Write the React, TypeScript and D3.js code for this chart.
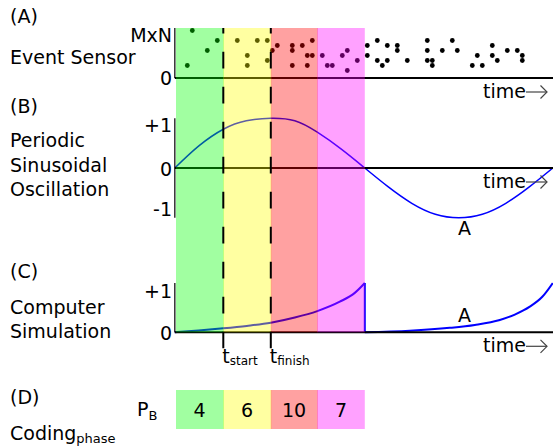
import React from 'react';
import * as d3 from 'd3';

// panel A: sensor events, [time, level]
const sensorEvents: [number, number][] = [
  [3.5, 9.5], [8.5, 7.5], [6.5, 5.5], [2.5, 2.5],
  [12.5, 7.5], [16.5, 7.5], [18.5, 7.5], [14.5, 4.5], [14.5, 2.5], [18.5, 3.5],
  [20.5, 6.5], [19.5, 5.5], [23.5, 6.5], [23.5, 5.5], [25.5, 6.5], [27.5, 7.5],
  [26.5, 4.5], [27.5, 4.5], [23.5, 2.5], [26.5, 2.5],
  [29.5, 4.5], [30.5, 2.5], [31.5, 2.5], [33.5, 4.5], [34.5, 5.5], [36.5, 3.5], [34.5, 1.5],
  [38.5, 6.5], [38.5, 4.5], [40.5, 7.5], [40.5, 3.5], [41.5, 2.5], [42.5, 6.5], [42.5, 3.5],
  [44.5, 6.5], [44.5, 5.5], [46.5, 3.5], [50.5, 7.5], [50.5, 5.5], [50.5, 3.5], [51.5, 3.5],
  [51.5, 2.5], [53.5, 5.5], [55.5, 7.5], [56.5, 5.5], [59.5, 2.5], [60.5, 4.5], [61.5, 2.5],
  [63.5, 6.5], [63.5, 4.5], [64.5, 3.5], [66.5, 5.5], [68.5, 5.5], [69.5, 4.5], [69.5, 3.5],
];

// panel B: oscillation
const sineT = [0, 4.75, 9.7, 14.3, 19.2, 24, 28.5, 33.3, 38, 42.7, 47.4, 52.1, 56.8, 61.5, 66.2, 70.9, 75.6];
const sineV = [0, 0.44, 0.78, 0.95, 1, 0.95, 0.72, 0.38, 0, -0.38, -0.71, -0.93, -1, -0.93, -0.71, -0.38, 0];

// panel C: simulation, two runs
const simT1 = [0, 4.75, 9.7, 14.4, 19.2, 24, 28.5, 33, 36, 38];
const simV1 = [0, 0.035, 0.08, 0.13, 0.195, 0.3, 0.43, 0.62, 0.8, 1];
const simT2 = [38, 47, 55, 60, 65, 68, 71, 73.5, 75.6];
const simV2 = [0, 0.03, 0.09, 0.15, 0.25, 0.36, 0.52, 0.72, 1];

// phases
const phaseEdges = [0.24, 9.7, 19.2, 28.5, 38];
const phaseColors = ['#00ff00', '#ffff00', '#ff0000', '#ff00ff'];
const codingValues = [4, 6, 10, 7];
const markers = [{ t: 9.7, sub: 'start' }, { t: 19.2, sub: 'finish' }];

const FONT = 'DejaVu Sans, Verdana, sans-serif';
const FS = 19;
const BAND_OPACITY = 0.37;

export default function App() {
  const width = 553;
  const height = 448;

  const x = d3.scaleLinear().domain([0, 75.64]).range([174.8, 553]);
  const yA = d3.scaleLinear().domain([0, 10]).range([78, 28]);
  const yB = d3.scaleLinear().domain([-1, 1]).range([217.7, 118.3]);
  const yC = d3.scaleLinear().domain([0, 1]).range([332.3, 283]);

  const sineLine = d3.line<number>()
    .x((d, i) => x(sineT[i]))
    .y(d => yB(d))
    .curve(d3.curveNatural);

  const simLine = (ts: number[]) => d3.line<number>()
    .x((d, i) => x(ts[i]))
    .y(d => yC(d))
    .curve(d3.curveMonotoneX);

  const x0 = x(0);
  const bandTop = yA(10);
  const bandBottom = yC(0);

  const timeLabel = (axisY: number, key: string) => {
    const base = axisY + 19.5;
    const ay = base - 5.5;
    return (
      <g key={key}>
        <text x={483} y={base} fontSize={FS}>time</text>
        <line x1={526} x2={547} y1={ay} y2={ay} stroke="#444" strokeWidth={1.2} />
        <polyline points={`540.5,${ay - 6.5} 547,${ay} 540.5,${ay + 6.5}`} fill="none" stroke="#444" strokeWidth={1.2} />
      </g>
    );
  };

  return (
    <svg width={width} height={height} style={{ position: 'absolute', left: 0, top: 0, background: '#fff' }}
      fontFamily={FONT} fill="#000">
      {/* left titles */}
      <text x={10} y={23} fontSize={FS}>(A)</text>
      <text x={10} y={64} fontSize={FS}>Event Sensor</text>
      <text x={10} y={113} fontSize={FS}>(B)</text>
      <text x={10} y={147} fontSize={FS}>Periodic</text>
      <text x={10} y={171.5} fontSize={FS}>Sinusoidal</text>
      <text x={10} y={196} fontSize={FS}>Oscillation</text>
      <text x={10} y={278} fontSize={FS}>(C)</text>
      <text x={10} y={313.5} fontSize={FS}>Computer</text>
      <text x={10} y={338} fontSize={FS}>Simulation</text>
      <text x={10} y={404} fontSize={FS}>(D)</text>
      <text x={10} y={440} fontSize={FS}>Coding<tspan fontSize={13} dy={3}>phase</tspan></text>

      {/* tick labels */}
      <g textAnchor="end" fontSize={FS}>
        <text x={172} y={yA(8.6) + 7}>MxN</text>
        <text x={172} y={yA(0) + 7}>0</text>
        <text x={172} y={yB(0.86) + 7}>+1</text>
        <text x={172} y={yB(0) + 7.5}>0</text>
        <text x={172} y={yB(-0.82) + 7}>-1</text>
        <text x={172} y={yC(0.84) + 7}>+1</text>
        <text x={172} y={yC(0) + 7.5}>0</text>
      </g>

      {/* panel A */}
      {sensorEvents.map(([t, v], i) => (
        <circle key={i} cx={x(t)} cy={yA(v)} r={2.4} fill="#000" />
      ))}

      {/* panel B */}
      <path d={sineLine(sineV) || ''} fill="none" stroke="#0000ff" strokeWidth={1.5} />

      {/* panel C */}
      <path d={simLine(simT1)(simV1) || ''} fill="none" stroke="#0000ff" strokeWidth={2} />
      <path d={simLine(simT2)(simV2) || ''} fill="none" stroke="#0000ff" strokeWidth={2} />
      <line x1={x(simT1[simT1.length - 1])} x2={x(simT2[0])}
        y1={yC(simV1[simV1.length - 1])} y2={yC(simV2[0])} stroke="#0000ff" strokeWidth={2} />

      {/* axes */}
      <g stroke="#000">
        <line x1={x0} x2={x0} y1={yA(0)} y2={yA(10)} strokeWidth={1.5} stroke="#333" />
        <line x1={x0} x2={x0} y1={yB(-1)} y2={yB(1)} strokeWidth={1.5} stroke="#333" />
        <line x1={x0} x2={x0} y1={yC(0)} y2={yC(1)} strokeWidth={1.5} stroke="#333" />
        <line x1={x0} x2={width} y1={yA(0)} y2={yA(0)} strokeWidth={2} />
        <line x1={x0} x2={width} y1={yB(0)} y2={yB(0)} strokeWidth={2} />
        <line x1={x0} x2={width} y1={yC(0)} y2={yC(0)} strokeWidth={2} />
      </g>
      {timeLabel(yA(0), 'a')}
      {timeLabel(yB(0), 'b')}
      {timeLabel(yC(0), 'c')}

      <text x={458} y={yB(-1) + 17.5} fontSize={FS}>A</text>
      <text x={458} y={yC(0.35) + 7} fontSize={FS}>A</text>

      {/* phase bands over the plots */}
      {phaseColors.map((c, i) => (
        <rect key={i} x={x(phaseEdges[i])} y={bandTop}
          width={x(phaseEdges[i + 1]) - x(phaseEdges[i]) + (i < 3 ? 0.6 : 0)}
          height={bandBottom - bandTop} fill={c} fillOpacity={BAND_OPACITY} />
      ))}

      {/* start / finish markers */}
      {markers.map(m => (
        <g key={m.sub}>
          <line x1={x(m.t)} x2={x(m.t)} y1={bandTop} y2={348.3} stroke="#000" strokeWidth={2}
            strokeDasharray="16.7 18.3" strokeDashoffset={bandTop - 16.7 + 35} />
          <text x={x(m.t) - 1} y={363} fontSize={FS}>t<tspan fontSize={12} dy={2}>{m.sub}</tspan></text>
        </g>
      ))}

      {/* panel D */}
      <text x={137} y={416} fontSize={FS}>P<tspan fontSize={13} dy={4}>B</tspan></text>
      {codingValues.map((v, i) => {
        const x1 = x(phaseEdges[i]);
        const x2 = x(phaseEdges[i + 1]);
        return (
          <g key={i}>
            <rect x={x1} y={390} width={x2 - x1 + (i < 3 ? 0.6 : 0)} height={39}
              fill={phaseColors[i]} fillOpacity={BAND_OPACITY} />
            <text x={(x1 + x2) / 2} y={417} textAnchor="middle" fontSize={FS}>{v}</text>
          </g>
        );
      })}
    </svg>
  );
}
